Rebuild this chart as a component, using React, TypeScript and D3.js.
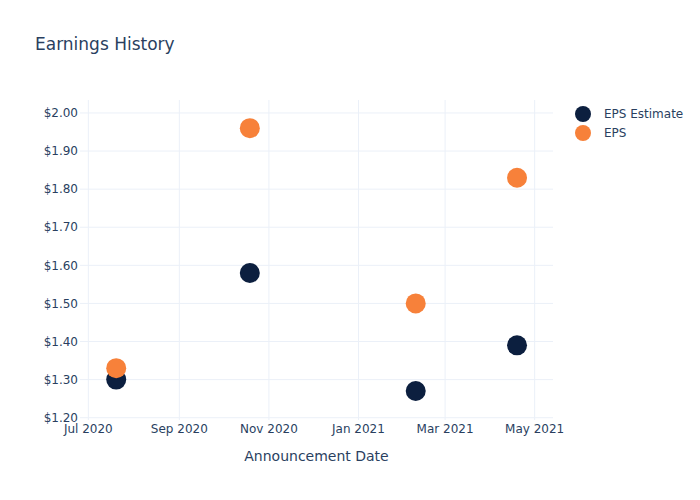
import React from "react";
import * as d3 from "d3";

const dates = ["2020-07-20", "2020-10-19", "2021-02-09", "2021-04-19"];
const epsEstimate = [1.3, 1.58, 1.27, 1.39];
const eps = [1.33, 1.96, 1.5, 1.83];
const yTicks = [1.2, 1.3, 1.4, 1.5, 1.6, 1.7, 1.8, 1.9, 2.0];
const xTickDates = ["2020-07-01", "2020-09-01", "2020-11-01", "2021-01-01", "2021-03-01", "2021-05-01"];
const seriesNames = ["EPS Estimate", "EPS"];
const seriesColors = ["#0c1f3f", "#f7813a"];

const W = 700, H = 500;
const margin = { l: 80, r: 147, t: 100, b: 80 };
const font = "'DejaVu Sans', Verdana, sans-serif";
const textColor = "#2a3f5f";
const gridColor = "#ebf0f8";

export default function App() {
  const parse = d3.utcParse("%Y-%m-%d");
  const x = d3
    .scaleUtc()
    .domain([new Date(Date.UTC(2020, 5, 25, 8)), new Date(Date.UTC(2021, 4, 13, 12))])
    .range([margin.l, W - margin.r]);
  const y = d3.scaleLinear().domain([1.194, 2.034]).range([H - margin.b, margin.t]);
  const fmtX = d3.utcFormat("%b %Y");
  const fmtY = (v: number) => "$" + v.toFixed(2);
  const series = [epsEstimate, eps];

  return (
    <svg width={W} height={H} style={{ position: "absolute", left: 0, top: 0, background: "#fff" }} fontFamily={font}>
      <rect x={0} y={0} width={W} height={H} fill="#fff" />
      <g>
        {xTickDates.map((d) => {
          const xv = x(parse(d)!);
          return <line key={d} x1={xv} x2={xv} y1={margin.t} y2={H - margin.b} stroke={gridColor} strokeWidth={1} />;
        })}
        {yTicks.map((v) => (
          <line key={v} x1={margin.l} x2={W - margin.r} y1={y(v)} y2={y(v)} stroke={gridColor} strokeWidth={1} />
        ))}
      </g>
      <g fontSize={12} fill={textColor}>
        {yTicks.map((v) => (
          <text key={v} x={margin.l - 2} y={y(v)} dy="0.35em" textAnchor="end">
            {fmtY(v)}
          </text>
        ))}
        {xTickDates.map((d) => (
          <text key={d} x={x(parse(d)!)} y={H - margin.b + 13} textAnchor="middle">
            {fmtX(parse(d)!)}
          </text>
        ))}
      </g>
      <text x={margin.l + (W - margin.l - margin.r) / 2} y={461} textAnchor="middle" fontSize={14} fill={textColor}>
        Announcement Date
      </text>
      <text x={35} y={50} fontSize={17} fill={textColor}>
        Earnings History
      </text>
      {series.map((vals, si) => (
        <g key={si}>
          {vals.map((v, i) => (
            <circle key={i} cx={x(parse(dates[i])!)} cy={y(v)} r={10} fill={seriesColors[si]} />
          ))}
        </g>
      ))}
      <g>
        {seriesNames.map((n, i) => (
          <g key={n} transform={`translate(583,${114 + i * 19})`}>
            <circle cx={0} cy={0} r={8} fill={seriesColors[i]} />
            <text x={21} y={0} dy="0.35em" fontSize={12} fill={textColor}>
              {n}
            </text>
          </g>
        ))}
      </g>
    </svg>
  );
}
